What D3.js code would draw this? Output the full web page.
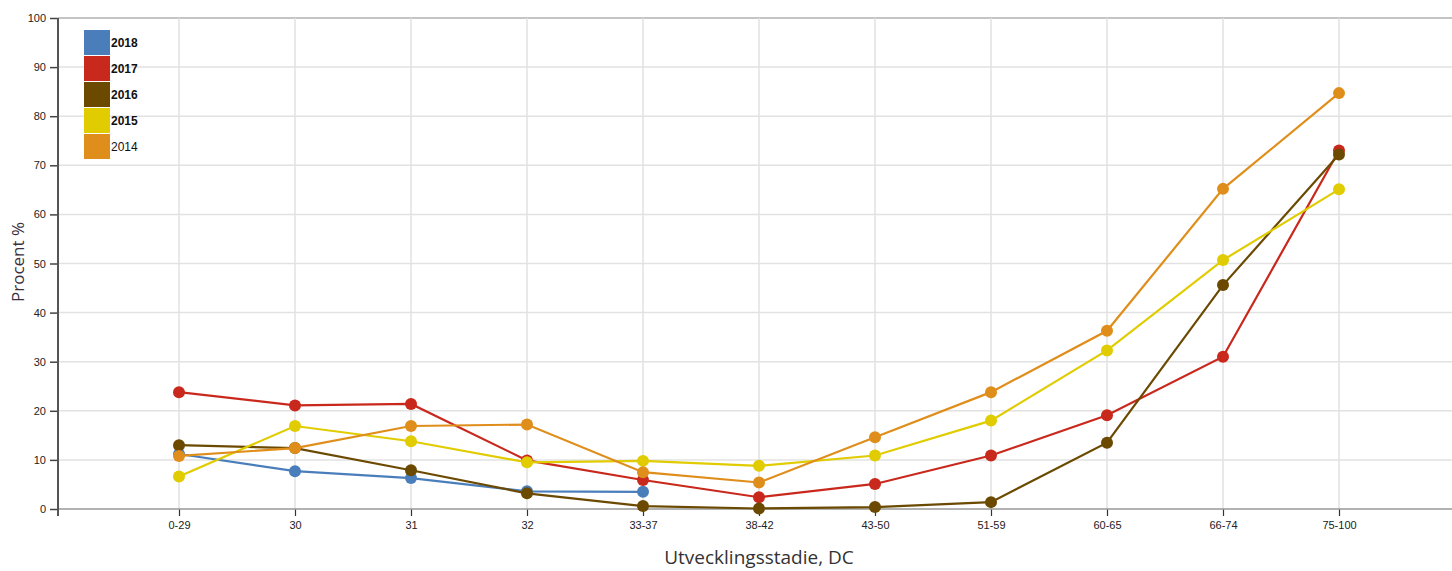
<!DOCTYPE html>
<html><head><meta charset="utf-8">
<script src="https://cdn.jsdelivr.net/npm/d3@7"></script>
<style>body{margin:0;background:#fff;overflow:hidden}svg{display:block}</style>
</head><body><svg id="c" width="1452" height="571"></svg>
<script>
const categories = ["0-29","30","31","32","33-37","38-42","43-50","51-59","60-65","66-74","75-100"];
const years = ["2018","2017","2016","2015","2014"];
const colors = ["#4a7ebb","#c9281c","#6b4a00","#e0cc00","#e08e1b"];
const v2018 = [11.2, 7.7, 6.3, 3.6, 3.5];
const v2017 = [23.8, 21.1, 21.4, 9.9, 5.9, 2.4, 5.1, 10.9, 19.1, 31.0, 73.0];
const v2016 = [13.0, 12.4, 7.9, 3.2, 0.6, 0.1, 0.4, 1.4, 13.5, 45.6, 72.2];
const v2015 = [6.6, 16.9, 13.8, 9.5, 9.8, 8.8, 10.9, 18.0, 32.3, 50.7, 65.1];
const v2014 = [10.8, 12.4, 16.9, 17.2, 7.5, 5.4, 14.6, 23.8, 36.3, 65.2, 84.7];
const seriesValues = [v2018, v2017, v2016, v2015, v2014];
const yTicks = [0,10,20,30,40,50,60,70,80,90,100];
const boldLegend = [true,true,true,true,false];

(function(){
const svg = d3.select("#c");
const mLeft = 58, mRight = 1452, mTop = 18, mBottom = 509;
const x = d3.scalePoint().domain(categories).range([179, 1339]);
const y = d3.scaleLinear().domain([0,100]).range([mBottom, mTop]);

// grid
const g = svg.append("g");
g.selectAll(".hg").data(yTicks.slice(1)).join("line")
  .attr("x1", mLeft).attr("x2", mRight).attr("y1", d=>y(d)).attr("y2", d=>y(d))
  .attr("stroke", d=> d===100 ? "#b0b0b0" : "#e2e2e2").attr("stroke-width", 1.5);
g.selectAll(".vg").data(categories).join("line")
  .attr("x1", d=>x(d)).attr("x2", d=>x(d)).attr("y1", mTop).attr("y2", mBottom)
  .attr("stroke", "#e2e2e2").attr("stroke-width", 1.5);

// x axis
const xa = svg.append("g").attr("transform", `translate(0,${mBottom})`)
  .call(d3.axisBottom(x).tickSize(7).tickPadding(5));
xa.select(".domain").remove();
xa.selectAll(".tick line").attr("stroke", "#333").attr("stroke-width", 1.2);
xa.selectAll(".tick text").attr("font-family", "Liberation Sans, Arial, sans-serif").attr("font-size", 11).attr("fill", "#222");
svg.append("line").attr("x1", mLeft).attr("x2", mRight).attr("y1", mBottom).attr("y2", mBottom)
  .attr("stroke", "#999").attr("stroke-width", 1.5);

// y axis
const ya = svg.append("g").attr("transform", `translate(${mLeft},0)`)
  .call(d3.axisLeft(y).tickValues(yTicks).tickSize(8).tickPadding(4));
ya.select(".domain").remove();
ya.selectAll(".tick line").attr("stroke", "#444").attr("stroke-width", 1.5);
ya.selectAll(".tick text").attr("font-family", "Liberation Sans, Arial, sans-serif").attr("font-size", 11).attr("fill", "#222");
svg.append("line").attr("x1", mLeft).attr("x2", mLeft).attr("y1", mTop).attr("y2", mBottom + 7)
  .attr("stroke", "#555").attr("stroke-width", 2);

// axis titles
svg.append("text").attr("x", 759).attr("y", 564).attr("text-anchor", "middle")
  .attr("font-family", "Open Sans, sans-serif").attr("font-size", 19).attr("fill", "#333")
  .text("Utvecklingsstadie, DC");
svg.append("text").attr("transform", "translate(24,262) rotate(-90)").attr("text-anchor", "middle")
  .attr("font-family", "Open Sans, sans-serif").attr("font-size", 17).attr("fill", "#3a2f3a")
  .text("Procent %");

// series
const line = d3.line().x((d,i)=>x(categories[i])).y(d=>y(d));
seriesValues.forEach((vals, si) => {
  const sg = svg.append("g");
  sg.append("path").datum(vals).attr("d", line).attr("fill","none")
    .attr("stroke", colors[si]).attr("stroke-width", 2.2);
  sg.selectAll("circle").data(vals).join("circle")
    .attr("cx", (d,i)=>x(categories[i])).attr("cy", d=>y(d)).attr("r", 6)
    .attr("fill", colors[si]);
});

// legend
const lg = svg.append("g").attr("transform", "translate(84,30)");
years.forEach((yr, i) => {
  lg.append("rect").attr("x", 0).attr("y", i*26).attr("width", 26).attr("height", 25)
    .attr("fill", colors[i]);
  lg.append("text").attr("x", 27).attr("y", i*26 + 17)
    .attr("font-family", "Liberation Sans, Arial, sans-serif").attr("font-size", 12)
    .attr("font-weight", boldLegend[i] ? "bold" : "normal").attr("fill", "#111")
    .text(yr);
});
})();
</script></body></html>
